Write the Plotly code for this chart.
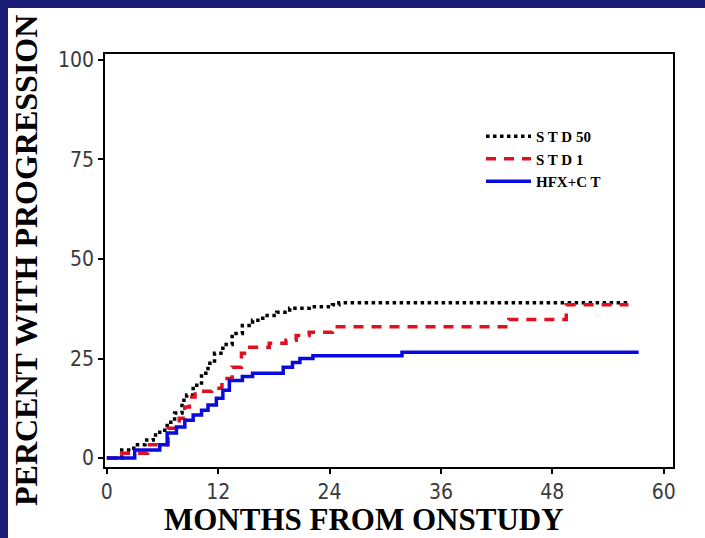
import plotly.graph_objects as go

# Kaplan-Meier style cumulative progression (months, percent)
std50_t = [0, 1.6, 2.9, 4.1, 5.0, 5.7, 6.5, 7.3, 8.1, 8.6, 9.3, 10.2, 10.9, 11.6, 12.5, 13.5,
           14.6, 15.7, 16.8, 18.3, 19.7, 21.8, 24.3, 25.0, 56.2]
std50_v = [0, 2.0, 3.3, 4.5, 5.8, 7.0, 9.0, 11.3, 14.5, 15.8, 18.3, 21.3, 23.8, 26.3, 28.5, 31.3,
           33.3, 34.6, 35.8, 36.6, 37.6, 38.0, 38.5, 39.0, 39.0]

std1_t = [0, 1.6, 4.4, 6.6, 7.8, 8.4, 8.9, 9.5, 11.3, 12.4, 13.5, 14.5, 15.4, 17.5, 19.3, 20.4,
          21.8, 24.3, 43.3, 49.5, 56.2]
std1_v = [0, 1.2, 3.3, 7.5, 10.0, 12.8, 15.3, 16.8, 17.5, 20.0, 22.8, 26.3, 27.8, 28.8, 29.6, 30.8,
          31.6, 33.0, 34.8, 38.5, 38.5]

hfx_t = [0, 3.0, 5.7, 6.5, 7.5, 8.4, 9.3, 10.2, 10.9, 11.8, 12.5, 13.2, 14.6, 15.7, 19.0, 20.0,
         20.8, 22.2, 31.8, 57.3]
hfx_v = [0, 2.0, 3.3, 6.3, 7.8, 9.5, 10.8, 12.0, 13.3, 15.0, 17.0, 19.5, 20.5, 21.3, 22.8, 24.0,
         25.0, 25.7, 26.6, 26.6]

x_ticks = [0, 12, 24, 36, 48, 60]
y_ticks = [0, 25, 50, 75, 100]

fig = go.Figure()
fig.add_trace(go.Scatter(x=std50_t, y=std50_v, name="<b>S T D 50</b>", mode="lines", line_shape="hv",
                         line=dict(color="#000000", width=3.5, dash="dot")))
fig.add_trace(go.Scatter(x=std1_t, y=std1_v, name="<b>S T D 1</b>", mode="lines", line_shape="hv",
                         line=dict(color="#e01020", width=3.5, dash="10px,8px")))
fig.add_trace(go.Scatter(x=hfx_t, y=hfx_v, name="<b>HFX+C T</b>", mode="lines", line_shape="hv",
                         line=dict(color="#0a0ae0", width=3.5)))

W, H = 705, 538
L, R, T, B = 105, 32, 54, 71
pw, ph = W - L - R, H - T - B

def px(xp):
    return (xp - L) / pw

def py(yp):
    return (H - B - yp) / ph

tickfont = dict(family="Liberation Sans Narrow, Arial Narrow, DejaVu Sans Condensed, sans-serif",
                size=21, color="#3a3a3a")
titlefont = dict(family="Liberation Serif, Times New Roman, serif", size=31, color="#000000")

fig.update_layout(
    width=W, height=H,
    margin=dict(l=L, r=R, t=T, b=B),
    paper_bgcolor="white", plot_bgcolor="white",
    showlegend=True,
    legend=dict(x=px(481), y=py(120), xanchor="left", yanchor="top",
                bgcolor="rgba(0,0,0,0)", itemwidth=45,
                font=dict(family="Liberation Serif, Times New Roman, serif", size=15, color="#000"),
                tracegroupgap=0),
    xaxis=dict(range=[-0.2, 61.0], tickvals=x_ticks, ticks="outside", ticklen=5, tickwidth=1.5,
               tickcolor="#000", showline=True, linecolor="#000", linewidth=1.5, mirror=True,
               showgrid=False, zeroline=False, tickfont=tickfont),
    yaxis=dict(range=[-2.26, 101.5], tickvals=y_ticks, ticks="outside", ticklen=5, tickwidth=1.5,
               tickcolor="#000", showline=True, linecolor="#000", linewidth=1.5, mirror=True,
               showgrid=False, zeroline=False, tickfont=tickfont),
    annotations=[
        dict(text="<b>PERCENT WITH PROGRESSION</b>", textangle=-90, xref="paper", yref="paper",
             x=px(26), y=py(261), xanchor="center", yanchor="middle", showarrow=False,
             font=dict(family="Liberation Serif, Times New Roman, serif", size=32, color="#000")),
        dict(text="<b>MONTHS FROM ONSTUDY</b>", xref="paper", yref="paper",
             x=px(364), y=py(519), xanchor="center", yanchor="middle", showarrow=False,
             font=titlefont),
    ],
    shapes=[
        dict(type="rect", xref="paper", yref="paper", x0=px(0), x1=px(W), y0=py(8), y1=py(0),
             fillcolor="#1b1b78", line=dict(width=0), layer="above"),
        dict(type="rect", xref="paper", yref="paper", x0=px(0), x1=px(8), y0=py(H), y1=py(0),
             fillcolor="#1b1b78", line=dict(width=0), layer="above"),
    ],
)

fig.write_html("out.html")
